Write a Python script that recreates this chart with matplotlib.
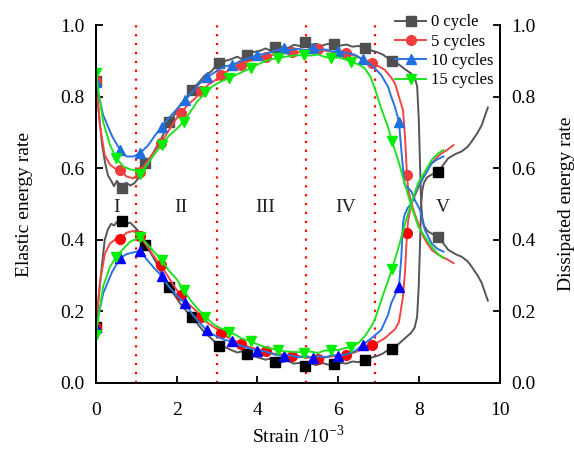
import matplotlib
matplotlib.use("Agg")
import matplotlib.pyplot as plt

plt.rcParams['font.family'] = ['Liberation Serif', 'DejaVu Serif']
plt.rcParams['mathtext.fontset'] = 'custom'
plt.rcParams['mathtext.rm'] = 'Liberation Serif'

# ---------------- data ----------------
labels = ["0 cycle", "5 cycles", "10 cycles", "15 cycles"]

x0 = [0, 0.08, 0.15, 0.22, 0.3, 0.38, 0.45, 0.52, 0.65, 0.75, 0.85, 0.95, 1.05, 1.15, 1.22, 1.35, 1.5,
      1.65, 1.8, 1.95, 2.1, 2.25, 2.38, 2.55, 2.7, 2.85, 3.04, 3.2, 3.35, 3.5, 3.6, 3.73, 3.9, 4.05, 4.2,
      4.3, 4.43, 4.6, 4.75, 4.9, 5.05, 5.17, 5.3, 5.45, 5.6, 5.75, 5.9, 6.05, 6.2, 6.35, 6.5, 6.65, 6.8,
      6.95, 7.1, 7.2, 7.33, 7.5, 7.65, 7.8, 7.89, 7.95, 7.99, 8.02, 8.05, 8.08, 8.12, 8.2, 8.3, 8.47, 8.6,
      8.72, 8.9, 9.05, 9.2, 9.3, 9.45, 9.55, 9.7]
e0 = [0.845, 0.75, 0.67, 0.62, 0.58, 0.565, 0.55, 0.565, 0.546, 0.56, 0.552, 0.558, 0.572, 0.6, 0.615,
      0.63, 0.66, 0.69, 0.73, 0.75, 0.78, 0.795, 0.82, 0.84, 0.86, 0.87, 0.895, 0.9, 0.905, 0.912, 0.906,
      0.917, 0.925, 0.928, 0.935, 0.93, 0.938, 0.94, 0.936, 0.945, 0.942, 0.952, 0.945, 0.948, 0.943,
      0.948, 0.947, 0.943, 0.946, 0.94, 0.942, 0.936, 0.93, 0.925, 0.918, 0.91, 0.9, 0.89, 0.877, 0.865,
      0.853, 0.83, 0.74, 0.62, 0.5, 0.46, 0.44, 0.425, 0.418, 0.409, 0.39, 0.372, 0.36, 0.353, 0.34,
      0.325, 0.3, 0.279, 0.23]
d0 = [0.155, 0.25, 0.33, 0.4, 0.43, 0.445, 0.44, 0.45, 0.453, 0.445, 0.448, 0.437, 0.425, 0.4, 0.385,
      0.365, 0.335, 0.3, 0.268, 0.245, 0.22, 0.2, 0.185, 0.16, 0.14, 0.125, 0.104, 0.1, 0.092, 0.085,
      0.088, 0.081, 0.075, 0.07, 0.065, 0.068, 0.059, 0.058, 0.062, 0.054, 0.056, 0.046, 0.055, 0.05,
      0.056, 0.051, 0.053, 0.056, 0.054, 0.06, 0.058, 0.064, 0.07, 0.075, 0.082, 0.09, 0.094, 0.11,
      0.125, 0.14, 0.155, 0.185, 0.27, 0.38, 0.5, 0.54, 0.56, 0.575, 0.582, 0.589, 0.61, 0.628, 0.64,
      0.647, 0.66, 0.675, 0.7, 0.721, 0.77]
m0 = [0, 8, 14, 18, 22, 26, 31, 36, 41, 46, 51, 56, 69]

x5 = [0, 0.1, 0.22, 0.35, 0.47, 0.6, 0.76, 0.93, 1.1, 1.25, 1.4, 1.6, 1.8, 2.0, 2.1, 2.3, 2.5, 2.6, 2.8,
      3.0, 3.1, 3.3, 3.5, 3.6, 3.8, 4.0, 4.2, 4.4, 4.6, 4.85, 5.0, 5.2, 5.35, 5.5, 5.7, 5.9, 6.05, 6.2,
      6.4, 6.6, 6.84, 7.0, 7.15, 7.3, 7.4, 7.5, 7.6, 7.65, 7.7, 7.73, 7.81, 7.9, 7.98, 8.1, 8.2, 8.31,
      8.45, 8.56, 8.7, 8.85]
e5 = [0.845, 0.72, 0.637, 0.61, 0.6, 0.595, 0.577, 0.572, 0.59, 0.615, 0.64, 0.67, 0.705, 0.74, 0.755,
      0.78, 0.8, 0.815, 0.835, 0.85, 0.86, 0.875, 0.885, 0.89, 0.9, 0.905, 0.912, 0.918, 0.92, 0.926,
      0.924, 0.93, 0.928, 0.934, 0.928, 0.925, 0.922, 0.921, 0.915, 0.905, 0.894, 0.885, 0.875, 0.855,
      0.838, 0.8, 0.763, 0.689, 0.58, 0.54, 0.502, 0.47, 0.445, 0.41, 0.39, 0.372, 0.36, 0.353, 0.345,
      0.335]
d5 = [0.155, 0.28, 0.36, 0.39, 0.4, 0.402, 0.42, 0.425, 0.41, 0.385, 0.36, 0.33, 0.295, 0.26, 0.245,
      0.22, 0.2, 0.185, 0.165, 0.15, 0.14, 0.125, 0.115, 0.11, 0.1, 0.095, 0.088, 0.082, 0.08, 0.074,
      0.076, 0.07, 0.072, 0.066, 0.072, 0.075, 0.078, 0.079, 0.085, 0.095, 0.106, 0.115, 0.125, 0.14,
      0.15, 0.17, 0.241, 0.31, 0.42, 0.455, 0.5, 0.525, 0.545, 0.575, 0.6, 0.614, 0.632, 0.642, 0.652,
      0.665]
m5 = [0, 5, 8, 11, 14, 17, 20, 23, 26, 29, 33, 37, 40, 48]

x10 = [0, 0.18, 0.4, 0.6, 0.76, 0.93, 1.09, 1.3, 1.45, 1.63, 1.8, 2.0, 2.2, 2.4, 2.55, 2.74, 2.9, 3.1,
       3.2, 3.37, 3.5, 3.7, 3.85, 4.0, 4.2, 4.4, 4.66, 4.8, 5.0, 5.2, 5.37, 5.5, 5.7, 5.85, 6.0, 6.2, 6.4,
       6.6, 6.82, 7.06, 7.23, 7.31, 7.4, 7.5, 7.56, 7.6, 7.64, 7.72, 7.81, 7.9, 8.02, 8.14, 8.31, 8.45,
       8.6]
e10 = [0.84, 0.749, 0.69, 0.651, 0.633, 0.633, 0.642, 0.665, 0.69, 0.715, 0.74, 0.765, 0.79, 0.815,
       0.835, 0.855, 0.865, 0.88, 0.885, 0.889, 0.895, 0.905, 0.91, 0.917, 0.92, 0.928, 0.936, 0.93,
       0.934, 0.93, 0.936, 0.93, 0.932, 0.926, 0.928, 0.922, 0.918, 0.905, 0.889, 0.861, 0.828, 0.8,
       0.772, 0.73, 0.651, 0.6, 0.555, 0.545, 0.535, 0.51, 0.484, 0.428, 0.39, 0.375, 0.367]
d10 = [0.155, 0.25, 0.31, 0.349, 0.36, 0.365, 0.369, 0.34, 0.32, 0.299, 0.27, 0.245, 0.223, 0.19, 0.17,
       0.148, 0.135, 0.125, 0.12, 0.116, 0.108, 0.1, 0.095, 0.09, 0.088, 0.08, 0.074, 0.078, 0.072, 0.075,
       0.07, 0.075, 0.072, 0.078, 0.076, 0.08, 0.088, 0.106, 0.125, 0.148, 0.19, 0.223, 0.245, 0.269,
       0.353, 0.446, 0.47, 0.49, 0.502, 0.53, 0.558, 0.58, 0.614, 0.625, 0.633]
m10 = [0, 3, 6, 9, 12, 15, 19, 23, 26, 30, 34, 37, 43]

x15 = [0, 0.18, 0.35, 0.51, 0.68, 0.85, 0.95, 1.1, 1.3, 1.45, 1.63, 1.8, 2.0, 2.17, 2.35, 2.5, 2.71, 2.9,
       3.05, 3.29, 3.45, 3.6, 3.83, 4.0, 4.2, 4.35, 4.5, 4.7, 4.9, 5.16, 5.3, 5.5, 5.65, 5.82, 6.0, 6.15,
       6.32, 6.5, 6.65, 6.8, 6.9, 7.06, 7.15, 7.23, 7.33, 7.48, 7.64, 7.81, 7.98, 8.14, 8.31, 8.45, 8.6]
e15 = [0.866, 0.73, 0.665, 0.628, 0.605, 0.597, 0.595, 0.585, 0.615, 0.64, 0.665, 0.69, 0.71, 0.73,
       0.76, 0.785, 0.812, 0.83, 0.84, 0.852, 0.86, 0.868, 0.88, 0.89, 0.9, 0.905, 0.908, 0.912, 0.915,
       0.917, 0.915, 0.918, 0.912, 0.908, 0.91, 0.905, 0.898, 0.89, 0.88, 0.855, 0.824, 0.768, 0.74,
       0.715, 0.675, 0.623, 0.558, 0.493, 0.437, 0.409, 0.381, 0.362, 0.349]
d15 = [0.135, 0.27, 0.325, 0.353, 0.375, 0.395, 0.4, 0.409, 0.385, 0.365, 0.344, 0.315, 0.29, 0.26,
       0.23, 0.21, 0.185, 0.165, 0.155, 0.143, 0.135, 0.125, 0.116, 0.108, 0.1, 0.096, 0.092, 0.088,
       0.087, 0.085, 0.088, 0.084, 0.09, 0.092, 0.092, 0.097, 0.101, 0.112, 0.13, 0.155, 0.176, 0.23,
       0.26, 0.285, 0.319, 0.375, 0.44, 0.505, 0.56, 0.59, 0.623, 0.64, 0.651]
m15 = [0, 3, 7, 10, 13, 16, 19, 22, 26, 29, 33, 36, 44]

stage_x = [1.0, 3.0, 5.2, 6.9]
stage_labels = ["I", "II", "III", "IV", "V"]
stage_label_x = [0.52, 2.11, 4.2, 6.19, 8.58]

# ---------------- figure ----------------
fig = plt.figure(figsize=(5.74, 4.5), dpi=100)
ax = fig.add_axes([0.167, 0.149, 0.704, 0.795])
ax2 = ax.twinx()

series = [
    (x0, e0, d0, m0, 's', '#555555', '#505050', '#000000'),
    (x5, e5, d5, m5, 'o', '#f04646', '#f03c3c', '#ff0000'),
    (x10, e10, d10, m10, '^', '#2a72e0', '#1f6fe0', '#0000ff'),
    (x15, e15, d15, m15, 'v', '#22e022', '#00ee00', '#00ee00'),
]
handles = []
for (xs, es, ds, ms, mk, lc, mce, mcd), lab in zip(series, labels):
    h, = ax.plot(xs, es, color=lc, lw=1.4, marker=mk, markevery=ms, ms=7,
                 mfc=mce, mec=mce, label=lab, zorder=3)
    ax.plot(xs, ds, color=lc, lw=1.4, marker=mk, markevery=ms, ms=7,
            mfc=mcd, mec=mcd, zorder=3)
    handles.append(h)

for sx in stage_x:
    ax.axvline(sx, color='#ff0000', ls=(0, (1, 3)), lw=1.6, zorder=2)
for lab, lx in zip(stage_labels, stage_label_x):
    ax.text(lx, 0.49, lab, ha='center', va='center', fontsize=14, color='#222222')

ax.set_xlim(0, 10)
ax.set_ylim(0, 1)
ax2.set_ylim(0, 1)
ax.set_xticks([0, 2, 4, 6, 8, 10])
ticks_y = [0.0, 0.2, 0.4, 0.6, 0.8, 1.0]
ax.set_yticks(ticks_y)
ax2.set_yticks(ticks_y)
ax.set_yticklabels([f"{t:.1f}" for t in ticks_y])
ax2.set_yticklabels([f"{t:.1f}" for t in ticks_y])

for a in (ax, ax2):
    a.spines['top'].set_visible(False)
    for s in a.spines.values():
        s.set_linewidth(1.3)
    a.tick_params(direction='in', length=5, width=1.3, labelsize=14)
ax.tick_params(axis='y', pad=8)
ax2.tick_params(axis='y', pad=8)
ax.tick_params(axis='x', pad=14)

ax.set_xlabel("Strain /10$^{\\mathregular{-3}}$", fontsize=14, labelpad=4)
ax.set_ylabel("Elastic energy rate", fontsize=14, labelpad=20)
ax2.set_ylabel("Dissipated energy rate", fontsize=14, labelpad=16)

leg = ax.legend(handles=handles, loc='upper right', bbox_to_anchor=(0.985, 1.03),
                frameon=False, fontsize=12, handlelength=1.9, handletextpad=0.3,
                labelspacing=0.2, borderpad=0, borderaxespad=0)

fig.savefig("out.png", dpi=100)
